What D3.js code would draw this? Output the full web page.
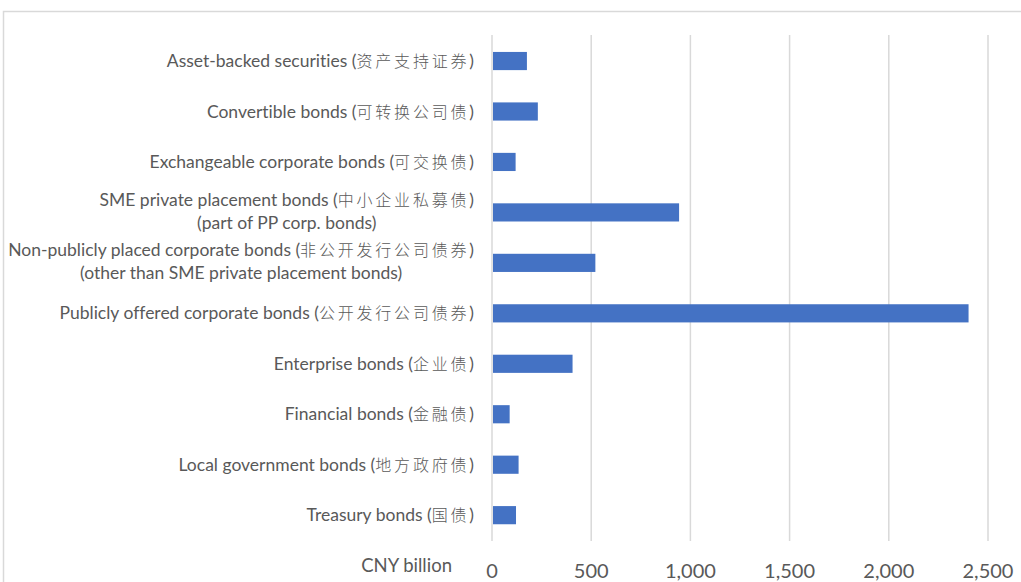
<!DOCTYPE html>
<html>
<head>
<meta charset="utf-8">
<script src="https://cdn.jsdelivr.net/npm/d3@7"></script>
<style>
  body { margin: 0; background: #fff; }
  svg { display: block; }
  text { font-family: Lato, "Noto Sans CJK SC", sans-serif; fill: #595959; font-variant-ligatures: none; }
  .cjk { font-family: "Noto Sans CJK SC", sans-serif; font-weight: 300; }
</style>
</head>
<body>
<svg id="chart" width="1021" height="582"></svg>
<script>
// categories top to bottom: [english, chinese, closing, optional second line]
const categories = [
    ["Asset-backed securities (", "资产支持证券", ")"],
    ["Convertible bonds (", "可转换公司债", ")"],
    ["Exchangeable corporate bonds (", "可交换债", ")"],
    ["SME private placement bonds (", "中小企业私募债", ")", "(part of PP corp. bonds)"],
    ["Non-publicly placed corporate bonds (", "非公开发行公司债券", ")", "(other than SME private placement bonds)"],
    ["Publicly offered corporate bonds (", "公开发行公司债券", ")"],
    ["Enterprise bonds (", "企业债", ")"],
    ["Financial bonds (", "金融债", ")"],
    ["Local government bonds (", "地方政府债", ")"],
    ["Treasury bonds (", "国债", ")"]
];
const values = [176, 231, 119, 943, 521, 2402, 406, 89, 134, 121];
const ticks = [0, 500, 1000, 1500, 2000, 2500];
const unitLabel = "CNY billion";

const svg = d3.select("#chart");

// outer chart border (runs off the right and bottom edge)
svg.append("rect")
    .attr("x", 3.5).attr("y", 11.5)
    .attr("width", 1040).attr("height", 600)
    .attr("fill", "none")
    .attr("stroke", "#d9d9d9")
    .attr("stroke-width", 1.5);

const x = d3.scaleLinear().domain([0, 2500]).range([492, 988]);
const y = d3.scaleBand()
    .domain(d3.range(categories.length))
    .range([35.8, 540.4])
    .paddingInner(0.64)
    .paddingOuter(0.32);

// gridlines
svg.append("g")
    .selectAll("line")
    .data(ticks)
    .enter().append("line")
    .attr("x1", d => x(d)).attr("x2", d => x(d))
    .attr("y1", 35).attr("y2", 541)
    .attr("stroke", "#d9d9d9")
    .attr("stroke-width", 1.5);

// bars
svg.append("g")
    .selectAll("rect")
    .data(values)
    .enter().append("rect")
    .attr("x", x(0) + 1)
    .attr("y", (d, i) => y(i))
    .attr("width", d => x(d) - x(0) - 1)
    .attr("height", y.bandwidth())
    .attr("fill", "#4472c4");

// tick labels
svg.append("g")
    .selectAll("text")
    .data(ticks)
    .enter().append("text")
    .attr("x", d => x(d))
    .attr("y", 571)
    .attr("dy", "0.35em")
    .attr("text-anchor", "middle")
    .attr("font-size", 20)
    .text(d => d3.format(",")(d));

svg.append("text")
    .attr("x", 452).attr("y", 566)
    .attr("dy", "0.35em")
    .attr("text-anchor", "end")
    .attr("font-size", 18.5)
    .text(unitLabel);

// category labels, right aligned, extra lines centred under the first
const labelRight = 474;
const lineGap = 23;
const labels = svg.append("g").attr("font-size", 17.5);

categories.forEach((c, i) => {
    const cy = y(i) + y.bandwidth() / 2;
    const hasSecond = c.length > 3;
    const g = labels.append("g");
    const first = g.append("text")
        .attr("y", hasSecond ? cy - lineGap / 2 - 1 : cy)
        .attr("dy", "0.35em");
    first.append("tspan").text(c[0]);
    first.append("tspan").attr("class", "cjk").attr("font-size", 16).attr("letter-spacing", 2.8).text(c[1]);
    first.append("tspan").text(c[2]);
    const w1 = first.node().getComputedTextLength();
    let w2 = 0, second = null;
    if (hasSecond) {
        second = g.append("text")
            .attr("y", cy + lineGap / 2 - 1)
            .attr("dy", "0.35em")
            .text(c[3]);
        w2 = second.node().getComputedTextLength();
    }
    const centre = labelRight - Math.max(w1, w2) / 2;
    first.attr("x", centre).attr("text-anchor", "middle");
    if (second) second.attr("x", centre).attr("text-anchor", "middle");
});
</script>
</body>
</html>
